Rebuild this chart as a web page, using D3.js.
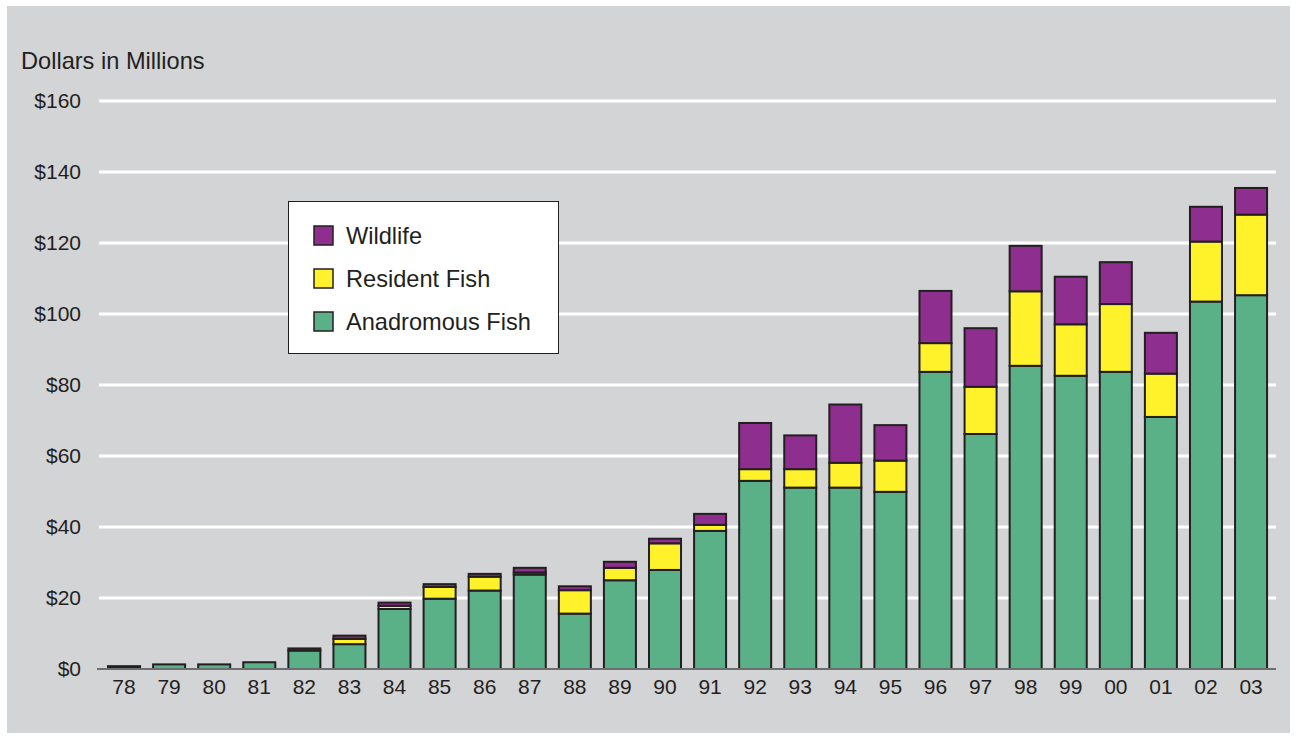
<!DOCTYPE html>
<html>
<head>
<meta charset="utf-8">
<script src="https://cdn.jsdelivr.net/npm/d3@7"></script>
<style>
  html, body { margin: 0; padding: 0; background: #ffffff; }
  svg { display: block; font-family: "Liberation Sans", Arial, Helvetica, sans-serif; }
</style>
</head>
<body>
<svg id="chart" width="1297" height="740"></svg>
<script>
// Fiscal years (two-digit labels)
const years = ["78","79","80","81","82","83","84","85","86","87","88","89","90",
               "91","92","93","94","95","96","97","98","99","00","01","02","03"];

// Spending by category, dollars in millions
const anadromousFish = [0.5, 1.3, 1.3, 1.9, 5.2, 7.0, 16.9, 19.8, 22.1, 26.6, 15.6, 25.0, 27.9,
                        38.9, 53.0, 51.1, 51.1, 49.9, 83.7, 66.2, 85.4, 82.6, 83.7, 71.0, 103.5, 105.3];
const residentFish   = [0, 0, 0, 0, 0, 1.5, 0.9, 3.3, 3.9, 0.6, 6.6, 3.5, 7.5,
                        1.7, 3.3, 5.2, 7.0, 8.8, 8.1, 13.3, 21.0, 14.5, 19.1, 12.2, 16.9, 22.7];
const wildlife       = [0.3, 0, 0, 0, 0.6, 0.9, 0.9, 0.8, 0.8, 1.3, 1.1, 1.7, 1.3,
                        3.1, 13.0, 9.5, 16.4, 10.0, 14.7, 16.5, 12.8, 13.4, 11.8, 11.5, 9.8, 7.5];

const yTicks = [0, 20, 40, 60, 80, 100, 120, 140, 160];

const seriesKeys   = ["anadromous", "resident", "wildlife"];
const seriesNames  = { anadromous: "Anadromous Fish", resident: "Resident Fish", wildlife: "Wildlife" };
const seriesColors = { anadromous: "#5bb187", resident: "#fff22a", wildlife: "#8e2e8e" };

const rows = years.map((y, i) => ({
  year: y,
  anadromous: anadromousFish[i],
  resident: residentFish[i],
  wildlife: wildlife[i]
}));

const svg = d3.select("#chart");

// Gray panel
svg.append("rect")
  .attr("x", 7).attr("y", 6)
  .attr("width", 1283).attr("height", 727)
  .attr("fill", "#d3d4d6");

const x = d3.scaleBand()
  .domain(years)
  .range([101.5, 1273.6])
  .paddingInner(0.29)
  .paddingOuter(0.145);

const y = d3.scaleLinear()
  .domain([0, 160])
  .range([669, 101]);

// Horizontal gridlines
svg.append("g")
  .selectAll("line")
  .data(yTicks.filter(t => t > 0))
  .join("line")
  .attr("x1", 99).attr("x2", 1276)
  .attr("y1", d => y(d)).attr("y2", d => y(d))
  .attr("stroke", "#ffffff")
  .attr("stroke-width", 3);

// Y tick labels
svg.append("g")
  .selectAll("text")
  .data(yTicks)
  .join("text")
  .attr("x", 81)
  .attr("y", d => y(d))
  .attr("dy", "0.35em")
  .attr("text-anchor", "end")
  .attr("font-size", 21)
  .attr("fill", "#231f20")
  .text(d => "$" + d);

// Axis title
svg.append("text")
  .attr("x", 21).attr("y", 69)
  .attr("font-size", 23.6)
  .attr("fill", "#231f20")
  .text("Dollars in Millions");

// Stacked bars
const stacked = d3.stack().keys(seriesKeys)(rows);

svg.append("g")
  .selectAll("g")
  .data(stacked)
  .join("g")
  .attr("fill", d => seriesColors[d.key])
  .selectAll("rect")
  .data(d => d.filter(s => s[1] - s[0] > 0))
  .join("rect")
  .attr("x", d => x(d.data.year))
  .attr("width", x.bandwidth())
  .attr("y", d => y(d[1]))
  .attr("height", d => y(d[0]) - y(d[1]))
  .attr("stroke", "#231f20")
  .attr("stroke-width", 2);

// Baseline
svg.append("line")
  .attr("x1", 97).attr("x2", 1276)
  .attr("y1", y(0)).attr("y2", y(0))
  .attr("stroke", "#6d6e70")
  .attr("stroke-width", 2);

// X tick labels
svg.append("g")
  .selectAll("text")
  .data(years)
  .join("text")
  .attr("x", d => x(d) + x.bandwidth() / 2)
  .attr("y", 694)
  .attr("text-anchor", "middle")
  .attr("font-size", 21)
  .attr("fill", "#231f20")
  .text(d => d);

// Legend
const legend = svg.append("g");
legend.append("rect")
  .attr("x", 288.5).attr("y", 201.5)
  .attr("width", 270).attr("height", 152)
  .attr("fill", "#ffffff")
  .attr("stroke", "#231f20")
  .attr("stroke-width", 1);

const legendOrder = ["wildlife", "resident", "anadromous"];
const legendY = [236, 279, 322];
legendOrder.forEach((k, i) => {
  legend.append("rect")
    .attr("x", 314).attr("y", legendY[i] - 10)
    .attr("width", 19).attr("height", 19)
    .attr("fill", seriesColors[k])
    .attr("stroke", "#231f20")
    .attr("stroke-width", 1.5);
  legend.append("text")
    .attr("x", 346).attr("y", legendY[i])
    .attr("dy", "0.35em")
    .attr("font-size", 23.6)
    .attr("fill", "#231f20")
    .text(seriesNames[k]);
});
</script>
</body>
</html>
